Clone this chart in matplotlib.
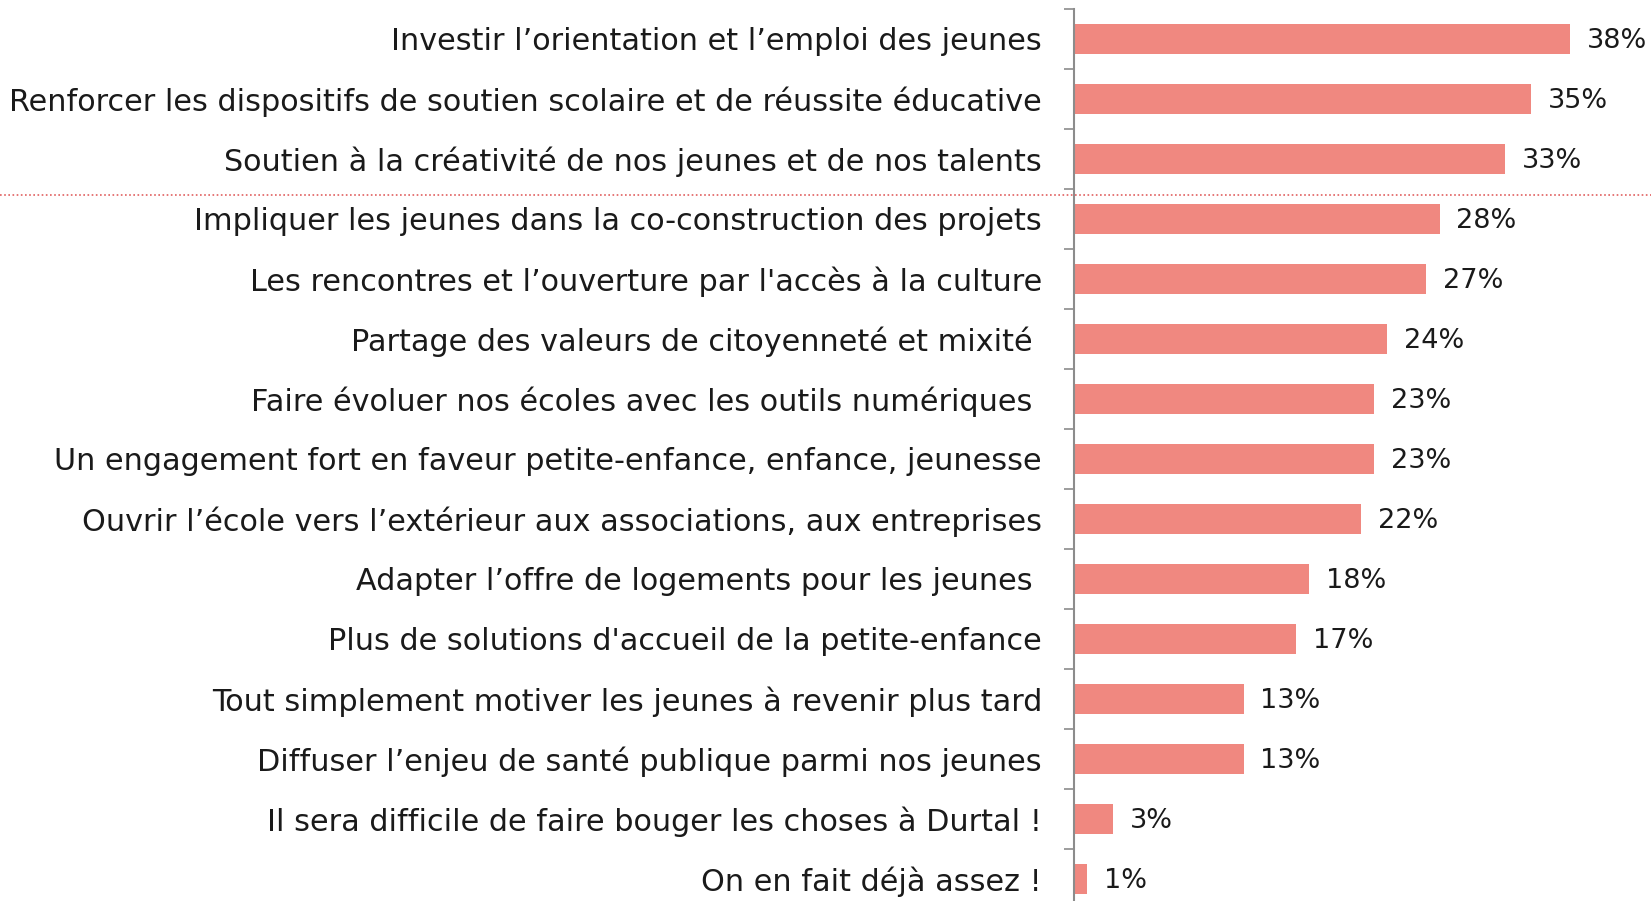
import matplotlib
matplotlib.use('Agg')

import matplotlib.pyplot as plt
from matplotlib.lines import Line2D
from matplotlib.transforms import blended_transform_factory

# Données
categories = [
    "Investir l’orientation et l’emploi des jeunes",
    "Renforcer les dispositifs de soutien scolaire et de réussite éducative",
    "Soutien à la créativité de nos jeunes et de nos talents",
    "Impliquer les jeunes dans la co-construction des projets",
    "Les rencontres et l’ouverture par l'accès à la culture",
    "Partage des valeurs de citoyenneté et mixité ",
    "Faire évoluer nos écoles avec les outils numériques ",
    "Un engagement fort en faveur petite-enfance, enfance, jeunesse",
    "Ouvrir l’école vers l’extérieur aux associations, aux entreprises",
    "Adapter l’offre de logements pour les jeunes ",
    "Plus de solutions d'accueil de la petite-enfance",
    "Tout simplement motiver les jeunes à revenir plus tard",
    "Diffuser l’enjeu de santé publique parmi nos jeunes",
    "Il sera difficile de faire bouger les choses à Durtal !",
    "On en fait déjà assez !",
]
valeurs = [38, 35, 33, 28, 27, 24, 23, 23, 22, 18, 17, 13, 13, 3, 1]
etiquettes = [f"{v}%" for v in valeurs]

couleur_barre = '#F08880'
couleur_axe = '#8c8c8c'

fig = plt.figure(figsize=(16.51, 9.01), dpi=100)
# l'axe dépasse un peu en bas de l'image, comme dans l'original
ax = fig.add_axes([1074 / 1651, -7.5 / 901, 1 - 1074 / 1651, 900 / 901])

n = len(categories)
pos = list(range(n))
ax.barh(pos, valeurs, height=0.5, color=couleur_barre)

ax.set_ylim(n - 0.5, -0.5)
ax.set_xlim(0, 44.2)

# étiquettes de valeurs
for i, v in enumerate(valeurs):
    ax.annotate(etiquettes[i], (v, i), xytext=(12, 0), textcoords='offset points',
                va='center_baseline', ha='left', fontsize=19.5, color='#1a1a1a')

# catégories
ax.set_yticks(pos)
ax.set_yticklabels(categories, fontsize=21.8, color='#1a1a1a', va='center_baseline')
ax.tick_params(axis='y', which='major', length=0, pad=23)
ax.set_yticks([i - 0.5 for i in range(n + 1)], minor=True)
ax.tick_params(axis='y', which='minor', length=7, width=1.2, color=couleur_axe)
ax.set_xticks([])

for s in ['top', 'right', 'bottom']:
    ax.spines[s].set_visible(False)
ax.spines['left'].set_color(couleur_axe)
ax.spines['left'].set_linewidth(1.5)

# ligne pointillée qui sépare le top 3
trans = blended_transform_factory(fig.transFigure, ax.transData)
fig.add_artist(Line2D([0, 1], [2.6, 2.6], transform=trans, color='#E06060',
                      linestyle=(0, (1, 1.5)), linewidth=1.2))

fig.savefig('out.png', dpi=100)
